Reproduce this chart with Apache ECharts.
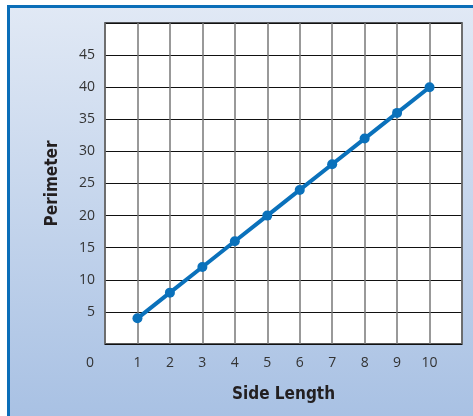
<!DOCTYPE html>
<html>
<head>
<meta charset="utf-8">
<script src="https://cdn.jsdelivr.net/npm/echarts@6/dist/echarts.min.js"></script>
<style>
  html, body { margin: 0; padding: 0; background: #fff; }
  #chart { width: 473px; height: 416px; }
</style>
</head>
<body>
<div id="chart"></div>
<script>
const sideLength = [1, 2, 3, 4, 5, 6, 7, 8, 9, 10];
const perimeter = [4, 8, 12, 16, 20, 24, 28, 32, 36, 40];
const xTicks = [0, 1, 2, 3, 4, 5, 6, 7, 8, 9, 10];
const yTicks = [5, 10, 15, 20, 25, 30, 35, 40, 45];

const chart = echarts.init(document.getElementById('chart'));

const labelFont = "'Open Sans', 'Noto Sans', sans-serif";
const titleFont = "'DejaVu Sans Condensed', sans-serif";

const option = {
  animation: false,
  graphic: [
    {
      type: 'rect',
      z: -10,
      shape: { x: 8.5, y: 6.5, width: 480, height: 420 },
      style: {
        fill: new echarts.graphic.LinearGradient(0, 0, 0, 1, [
          { offset: 0, color: '#e1e9f5' },
          { offset: 1, color: '#a7c0e3' }
        ]),
        stroke: '#0b6eb8',
        lineWidth: 3
      }
    }
  ],
  grid: {
    left: 105,
    top: 23,
    right: 11,
    bottom: 72,
    show: true,
    backgroundColor: '#fff',
    borderColor: '#222',
    borderWidth: 1.5
  },
  xAxis: {
    type: 'value',
    min: 0,
    max: 11,
    interval: 1,
    name: 'Side Length',
    nameLocation: 'middle',
    nameGap: 42,
    nameTextStyle: {
      fontFamily: titleFont,
      fontWeight: 'bold',
      fontSize: 17,
      color: '#231f20'
    },
    axisLine: { show: false },
    axisTick: { show: false },
    axisLabel: {
      margin: 12,
      fontFamily: labelFont,
      fontSize: 14,
      color: '#333',
      formatter: function (v) {
        if (v === 0) return '{z|0}';
        return xTicks.indexOf(v) >= 0 ? String(v) : '';
      },
      rich: {
        z: { fontFamily: labelFont, fontSize: 14, color: '#333', padding: [0, 30, 0, 0] }
      }
    },
    splitLine: { show: true, lineStyle: { color: '#777', width: 1.5 } }
  },
  yAxis: {
    type: 'value',
    min: 0,
    max: 50,
    interval: 5,
    name: 'Perimeter',
    nameLocation: 'middle',
    nameGap: 44,
    nameRotate: 90,
    nameTextStyle: {
      fontFamily: titleFont,
      fontWeight: 'bold',
      fontSize: 17,
      color: '#231f20'
    },
    axisLine: { show: false },
    axisTick: { show: false },
    axisLabel: {
      margin: 10,
      fontFamily: labelFont,
      fontSize: 14,
      color: '#333',
      formatter: function (v) {
        return yTicks.indexOf(v) >= 0 ? String(v) : '';
      }
    },
    splitLine: { show: true, lineStyle: { color: '#111', width: 1.2 } }
  },
  series: [
    {
      type: 'line',
      data: sideLength.map((x, i) => [x, perimeter[i]]),
      symbol: 'circle',
      symbolSize: 10,
      lineStyle: { color: '#0a71bb', width: 4 },
      itemStyle: { color: '#0a71bb' }
    }
  ]
};

chart.setOption(option);
</script>
</body>
</html>
